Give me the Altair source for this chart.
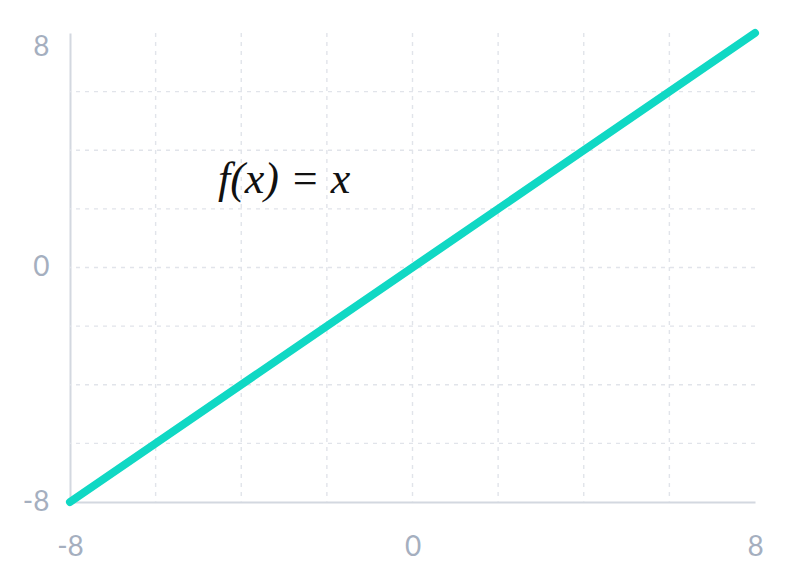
import altair as alt
import pandas as pd

xs = [-8, 8]
ys = [-8, 8]
label_x = [-3]
label_y = [3]
label_text = ["f(x) = x"]
tick_vals = [-8, 0, 8]
grid_vals = [-6, -4, -2, 0, 2, 4, 6]

line_df = pd.DataFrame({"x": xs, "y": ys})
text_df = pd.DataFrame({"x": label_x, "y": label_y, "t": label_text})
grid_df = pd.DataFrame({"g": grid_vals})

xscale = alt.Scale(domain=[-8, 8], nice=False, zero=False)
yscale = alt.Scale(domain=[-8, 8], nice=False, zero=False)

lbl_expr = "datum.value < 0 ? '-' + abs(datum.value) : '' + datum.value"

xaxis = alt.Axis(values=tick_vals, grid=False, ticks=False, domainColor="#d3d8e0",
                 domainWidth=2, labelColor="#a5afbf", labelFontSize=28, labelFont="Lato",
                 labelPadding=31, labelFlush=False, title=None, labelExpr=lbl_expr)
yaxis = alt.Axis(values=tick_vals, grid=False, ticks=False, domainColor="#d3d8e0",
                 domainWidth=2, labelColor="#a5afbf", labelFontSize=28, labelFont="Lato",
                 labelPadding=21, labelFlush=False, title=None, labelExpr=lbl_expr,
                 labelBaseline=alt.expr("datum.value == 8 ? 'top' : 'middle'"))

grid_color = "#e1e4ea"
dash = [4, 5]

vgrid = alt.Chart(grid_df).mark_rule(color=grid_color, strokeDash=dash, strokeWidth=1.4).encode(
    x=alt.X("g:Q", scale=xscale, axis=xaxis)
)
hgrid = alt.Chart(grid_df).mark_rule(color=grid_color, strokeDash=dash, strokeWidth=1.4).encode(
    y=alt.Y("g:Q", scale=yscale, axis=yaxis)
)

line = alt.Chart(line_df).mark_line(color="#10d8c4", strokeWidth=8, strokeCap="round").encode(
    x=alt.X("x:Q", scale=xscale, axis=xaxis),
    y=alt.Y("y:Q", scale=yscale, axis=yaxis),
)

text = alt.Chart(text_df).mark_text(font="Liberation Serif", fontStyle="italic", fontSize=44,
                                    color="#111111").encode(
    x=alt.X("x:Q", scale=xscale, axis=xaxis),
    y=alt.Y("y:Q", scale=yscale, axis=yaxis),
    text="t:N",
)

chart = alt.layer(vgrid, hgrid, line, text).properties(
    width=685, height=469,
    autosize=alt.AutoSizeParams(type="none"),
    padding={"left": 62, "top": 25, "right": 30, "bottom": 60},
).configure_view(stroke=None)

chart.save("out.html", embed_options={"renderer": "svg", "actions": False})
